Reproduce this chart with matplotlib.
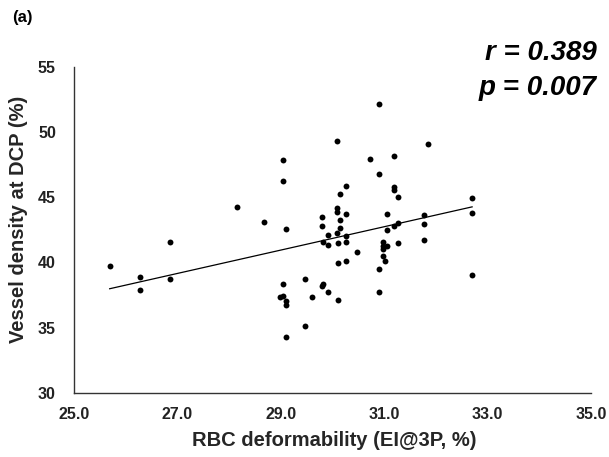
import numpy as np
import matplotlib
matplotlib.use("Agg")
import matplotlib.pyplot as plt


# ---------------------------------------------------------------------
# Data
# ---------------------------------------------------------------------

rbc_deform = [
    25.69, 26.27, 26.27, 26.86, 26.86, 28.16,
    30.89, 30.09, 29.04, 29.04, 30.73, 31.18, 31.85, 30.89, 30.26, 30.15,
    31.18, 31.18, 31.26, 30.09, 30.09, 30.26, 29.79, 28.68, 29.10, 29.79,
    30.15, 30.15, 31.05, 31.26, 31.18, 31.05, 31.76, 31.76, 29.92, 30.09,
    30.26, 29.82, 29.92, 30.11, 30.26, 30.47, 30.97, 30.97, 31.05, 30.97,
    30.97, 31.01, 31.26, 31.76, 30.11, 30.26, 30.89, 29.04, 29.47, 28.99,
    29.04, 29.10, 29.10, 29.61, 29.79, 29.82, 29.92, 30.11, 30.89, 29.47,
    29.10, 32.70, 32.70, 32.70,
]

vessel_density = [
    39.72, 38.88, 37.88, 41.59, 38.70, 44.27,
    52.13, 49.32, 47.84, 46.22, 47.91, 48.19, 49.09, 46.81, 45.89, 45.23,
    45.79, 45.58, 45.02, 44.14, 43.87, 43.71, 43.52, 43.12, 42.60, 42.82,
    43.22, 42.62, 43.71, 43.02, 42.83, 42.52, 43.62, 42.93, 42.13, 42.23,
    42.03, 41.60, 41.34, 41.51, 41.60, 40.80, 41.53, 41.26, 41.24, 41.01,
    40.53, 40.09, 41.51, 41.70, 39.92, 40.11, 39.49, 38.32, 38.70, 37.34,
    37.42, 37.01, 36.71, 37.33, 38.21, 38.32, 37.71, 37.09, 37.71, 35.12,
    34.30, 44.92, 43.83, 39.01,
]

x_ticks = [25.0, 27.0, 29.0, 31.0, 33.0, 35.0]
y_ticks = [30, 35, 40, 45, 50, 55]

r_text = "r = 0.389"
p_text = "p = 0.007"


# ---------------------------------------------------------------------
# Plot
# ---------------------------------------------------------------------

plt.rcParams["font.family"] = ["Liberation Sans", "DejaVu Sans"]

fig = plt.figure(figsize=(6.09, 4.57), dpi=100)
ax = fig.add_axes([0.1215, 0.1407, 0.8490, 0.7127])

x = np.array(rbc_deform)
y = np.array(vessel_density)

ax.scatter(x, y, s=18, color="black", zorder=3, linewidths=0)

# linear trend line over the data range
slope, intercept = np.polyfit(x, y, 1)
xs = np.array([x.min(), x.max()])
ax.plot(xs, slope * xs + intercept, color="black", linewidth=0.9, zorder=2)

ax.set_xlim(25, 35)
ax.set_ylim(30, 55)
ax.set_xticks(x_ticks)
ax.set_xticklabels([f"{v:.1f}" for v in x_ticks])
ax.set_yticks(y_ticks)
ax.set_yticklabels([str(v) for v in y_ticks])

ax.tick_params(axis="both", length=0, labelsize=11.5, labelcolor="#222222")
ax.tick_params(axis="x", pad=10)
ax.tick_params(axis="y", pad=13)
for lab in ax.get_xticklabels() + ax.get_yticklabels():
    lab.set_fontweight("bold")

for side in ["top", "right"]:
    ax.spines[side].set_visible(False)
for side in ["left", "bottom"]:
    ax.spines[side].set_color("#333333")
    ax.spines[side].set_linewidth(1.0)

fig.text(0.549, 0.037, "RBC deformability (EI@3P, %)", ha="center", va="center",
         fontsize=14.5, fontweight="bold", color="#262626")
fig.text(0.030, 0.519, "Vessel density at DCP (%)", ha="center", va="center",
         rotation=90, fontsize=14.5, fontweight="bold", color="#262626")

fig.text(0.020, 0.962, "(a)", ha="left", va="center", fontsize=12, fontweight="bold")

fig.text(0.980, 0.884, r_text, ha="right", va="center", fontsize=20,
         fontweight="bold", fontstyle="italic")
fig.text(0.980, 0.808, p_text, ha="right", va="center", fontsize=20,
         fontweight="bold", fontstyle="italic")

fig.savefig("out.png", dpi=100)
